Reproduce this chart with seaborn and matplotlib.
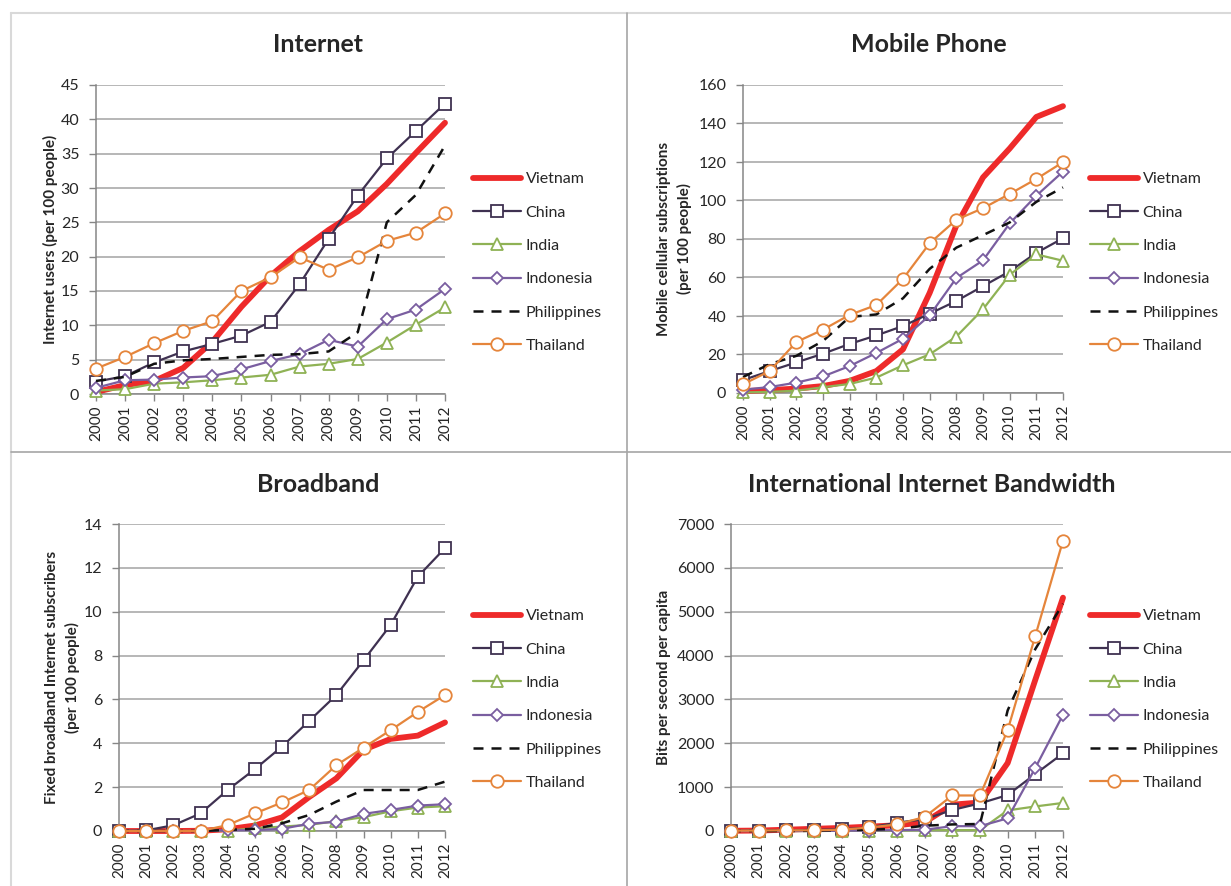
import matplotlib
matplotlib.use("Agg")
import matplotlib.pyplot as plt
from matplotlib.lines import Line2D
import seaborn as sns
import pandas as pd

years = list(range(2000, 2013))
countries = ["Vietnam", "China", "India", "Indonesia", "Philippines", "Thailand"]

# Internet users (per 100 people)
internet = {
    "Vietnam":     [0.3, 1.3, 1.9, 3.8, 7.6, 12.7, 17.2, 20.8, 23.9, 26.6, 30.6, 35.1, 39.5],
    "China":       [1.8, 2.6, 4.6, 6.2, 7.3, 8.5, 10.5, 16.0, 22.6, 28.9, 34.3, 38.3, 42.3],
    "India":       [0.5, 0.7, 1.5, 1.7, 2.0, 2.4, 2.8, 4.0, 4.4, 5.1, 7.5, 10.1, 12.6],
    "Indonesia":   [0.9, 2.0, 2.1, 2.4, 2.6, 3.6, 4.8, 5.8, 7.9, 6.9, 10.9, 12.3, 15.3],
    "Philippines": [1.9, 2.5, 4.4, 4.9, 5.1, 5.4, 5.7, 5.8, 6.2, 9.0, 25.0, 29.0, 36.2],
    "Thailand":    [3.7, 5.4, 7.4, 9.2, 10.6, 15.0, 17.0, 19.9, 18.1, 19.9, 22.3, 23.5, 26.3],
}

# Mobile cellular subscriptions (per 100 people)
mobile = {
    "Vietnam":     [1.0, 1.5, 2.3, 3.6, 6.3, 11.4, 22.7, 52.0, 87.0, 112.0, 127.0, 143.4, 149.0],
    "China":       [6.7, 11.4, 15.9, 20.4, 25.5, 29.9, 34.8, 41.2, 47.8, 55.5, 63.2, 72.8, 80.4],
    "India":       [0.3, 0.6, 1.2, 3.0, 4.7, 8.0, 14.4, 20.1, 29.3, 43.5, 61.4, 72.0, 68.7],
    "Indonesia":   [1.7, 3.1, 5.4, 8.6, 14.0, 20.8, 28.2, 40.3, 59.7, 68.9, 88.1, 102.5, 115.0],
    "Philippines": [8.3, 15.0, 19.3, 27.0, 39.5, 40.8, 49.2, 64.5, 75.5, 82.0, 88.6, 99.3, 106.8],
    "Thailand":    [4.5, 11.4, 26.5, 32.9, 40.6, 45.7, 59.3, 77.8, 90.0, 96.0, 103.4, 111.2, 119.9],
}

# Fixed broadband Internet subscribers (per 100 people)
broadband = {
    "Vietnam":     [0.0, 0.0, 0.0, 0.01, 0.08, 0.25, 0.62, 1.55, 2.4, 3.7, 4.2, 4.35, 4.95],
    "China":       [0.0, 0.03, 0.26, 0.8, 1.87, 2.82, 3.85, 5.02, 6.2, 7.78, 9.4, 11.6, 12.9],
    "India":       [0.0, 0.0, 0.0, 0.0, 0.02, 0.12, 0.2, 0.28, 0.45, 0.63, 0.9, 1.07, 1.13],
    "Indonesia":   [0.0, 0.0, 0.0, 0.0, 0.03, 0.04, 0.1, 0.33, 0.42, 0.78, 0.96, 1.16, 1.22],
    "Philippines": [0.0, 0.0, 0.0, 0.0, 0.05, 0.1, 0.35, 0.73, 1.34, 1.87, 1.87, 1.87, 2.25],
    "Thailand":    [0.0, 0.0, 0.0, 0.0, 0.27, 0.8, 1.3, 1.87, 3.0, 3.8, 4.6, 5.43, 6.2],
}

# International Internet bandwidth (bits per second per capita)
bandwidth = {
    "Vietnam":     [5, 10, 30, 50, 70, 100, 130, 200, 600, 650, 1550, 3450, 5320],
    "China":       [5, 10, 15, 25, 40, 80, 190, 270, 480, 630, 820, 1300, 1770],
    "India":       [0, 0, 0, 0, 5, 5, 10, 20, 20, 20, 470, 560, 640],
    "Indonesia":   [0, 0, 0, 0, 5, 10, 20, 30, 110, 110, 290, 1440, 2650],
    "Philippines": [0, 0, 0, 5, 20, 30, 50, 120, 150, 160, 2750, 4150, 5180],
    "Thailand":    [5, 10, 15, 15, 30, 80, 150, 320, 810, 810, 2300, 4450, 6620],
}

panels = [
    ("Internet", "Internet users (per 100 people)", internet, 45, 5),
    ("Mobile Phone", "Mobile cellular subscriptions\n(per 100 people)", mobile, 160, 20),
    ("Broadband", "Fixed broadband Internet subscribers\n(per 100 people)", broadband, 14, 2),
    ("International Internet Bandwidth", "Bits per second per capita", bandwidth, 7000, 1000),
]

styles = {
    "Vietnam":     dict(color="#ee2a2a", lw=4.2, marker=None),
    "China":       dict(color="#3f3151", lw=1.6, marker="s", ms=8),
    "India":       dict(color="#8fb255", lw=1.6, marker="^", ms=9),
    "Indonesia":   dict(color="#7a5ea0", lw=1.6, marker="D", ms=6.5),
    "Philippines": dict(color="#111111", lw=1.8, marker=None, dashes=(4, 3.2)),
    "Thailand":    dict(color="#e5853b", lw=1.6, marker="o", ms=9),
}

sns.set_style("white")
plt.rcParams["font.family"] = ["Lato", "DejaVu Sans"]

W, H = 1231, 886
fig = plt.figure(figsize=(W / 100, H / 100), dpi=100)

# axes boxes in pixels: left, top, right, bottom
boxes = [(96, 85, 445, 394), (743, 85, 1063, 393), (119, 524, 445, 831), (731, 524, 1063, 831)]
label_x = [-0.11, -0.16, -0.12, -0.18]
title_pos = [(318, 45), (929, 45), (318, 485), (932, 485)]
legend_pos = [(473, 172), (1090, 172), (473, 609), (1090, 609)]

axis_grey = "#868686"

for i, (title, ylabel, data, ymax, ystep) in enumerate(panels):
    l, t, r, b = boxes[i]
    ax = fig.add_axes([l / W, 1 - b / H, (r - l) / W, (b - t) / H])
    df = pd.DataFrame(data)
    df["year"] = years
    for k, name in enumerate(countries):
        st = styles[name]
        kw = dict(color=st["color"], lw=st["lw"], clip_on=False, zorder=3 + k, label=name)
        if st.get("marker"):
            kw.update(marker=st["marker"], markersize=st["ms"], markerfacecolor="white",
                      markeredgecolor=st["color"], markeredgewidth=1.3)
        if st.get("dashes"):
            kw.update(dashes=st["dashes"])
        sns.lineplot(data=df, x="year", y=name, ax=ax, **kw)

    ax.set_xlim(2000, 2012)
    ax.set_ylim(0, ymax)
    ax.set_xticks(years)
    ax.set_xticklabels([str(y) for y in years], rotation=90, fontsize=11)
    ax.set_yticks(range(0, ymax + 1, ystep))
    ax.tick_params(axis="y", labelsize=11.5, length=5, width=1, color=axis_grey, pad=7, left=True)
    ax.tick_params(axis="x", length=5, width=1, color=axis_grey, pad=3, bottom=True)
    ax.grid(axis="y", color="#a3a3a3", lw=1.1)
    ax.grid(axis="x", visible=False)
    for side in ["top", "right"]:
        ax.spines[side].set_visible(False)
    for side in ["left", "bottom"]:
        ax.spines[side].set_color(axis_grey)
        ax.spines[side].set_linewidth(1.1)
    ax.set_xlabel("")
    ax.set_ylabel(ylabel, fontsize=11, fontweight="bold", linespacing=1.45)
    ax.yaxis.set_label_coords(label_x[i], 0.5)

    tx, ty = title_pos[i]
    fig.text(tx / W, 1 - ty / H, title, fontsize=18, fontweight="bold", ha="center", va="center")

    lx, ly = legend_pos[i]
    ax.legend(loc="upper left", bbox_to_anchor=(lx / W, 1 - ly / H), bbox_transform=fig.transFigure,
              frameon=False, fontsize=11.5, handlelength=3.0, handletextpad=0.3,
              labelspacing=1.2, borderpad=0, borderaxespad=0)

# panel frame lines
light = "#d9d9d9"
mid = "#a6a6a6"
fig.add_artist(Line2D([11 / W, 11 / W], [0, 1 - 13 / H], color=light, lw=1.5))
fig.add_artist(Line2D([11 / W, 1], [1 - 13 / H, 1 - 13 / H], color=light, lw=1.5))
fig.add_artist(Line2D([626.5 / W, 626.5 / W], [0, 1 - 13 / H], color=mid, lw=1.2))
fig.add_artist(Line2D([11 / W, 1], [1 - 452 / H, 1 - 452 / H], color=mid, lw=1.2))

fig.savefig("out.png", dpi=100)
